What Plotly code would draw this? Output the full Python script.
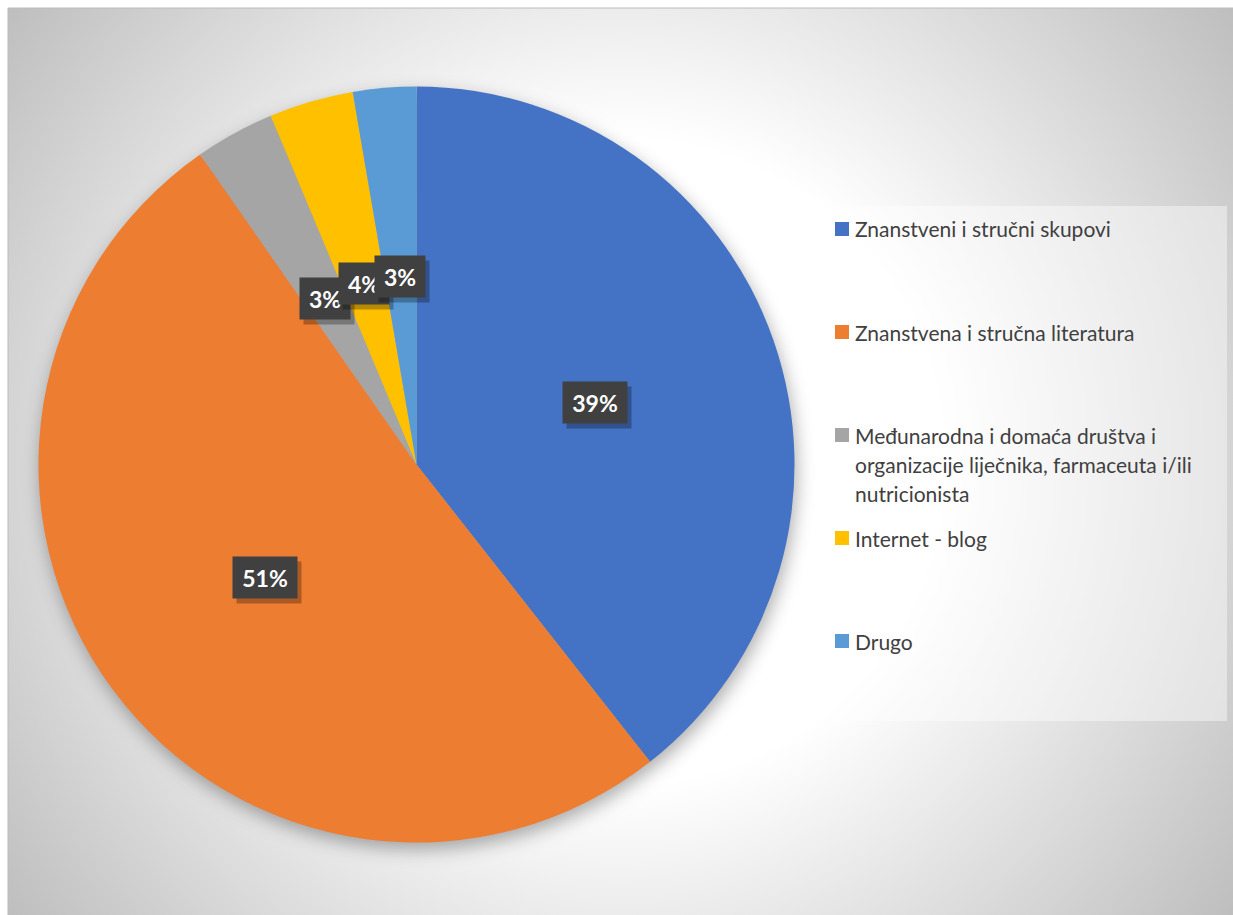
import base64
import math

import plotly.graph_objects as go

# ---- data -------------------------------------------------------------
labels = [
    "Znanstveni i stručni skupovi",
    "Znanstvena i stručna literatura",
    "Međunarodna i domaća društva i organizacije liječnika, farmaceuta i/ili nutricionista",
    "Internet - blog",
    "Drugo",
]
legend_lines = [
    ["Znanstveni i stručni skupovi"],
    ["Znanstvena i stručna literatura"],
    ["Međunarodna i domaća društva i", "organizacije liječnika, farmaceuta i/ili", "nutricionista"],
    ["Internet - blog"],
    ["Drugo"],
]
shares = [39.4, 50.9, 3.4, 3.6, 2.7]
colors = ["#4472C4", "#ED7D31", "#A5A5A5", "#FFC000", "#5B9BD5"]

# ---- geometry (pixels) ------------------------------------------------
W, H = 1233, 915
FRAME = (8, 8, 1233, 915)          # chart area: left, top, right, bottom
PIE_CX, PIE_CY, PIE_R = 416.5, 464.5, 378
LABEL_RADIUS = 0.5                 # data labels sit halfway out
LEG_BOX = (823, 206, 1227, 721)
LEG_FIRST_Y, LEG_STEP, LEG_LINE = 229, 103, 29
LEG_SWATCH_X, LEG_TEXT_X, SWATCH = 835, 853, 14

FONT = "Lato, 'Open Sans', sans-serif"
LABEL_SIZE = 23
LEGEND_SIZE = 21


def px(x):
    return x / W


def py(y):
    return 1 - y / H


# ---- background: soft radial gradient with pie drop shadow ------------
bw, bh = FRAME[2] - FRAME[0], FRAME[3] - FRAME[1]
svg = f"""<svg xmlns="http://www.w3.org/2000/svg" width="{bw}" height="{bh}" viewBox="0 0 {bw} {bh}">
<defs>
<radialGradient id="g" gradientUnits="userSpaceOnUse" cx="{bw / 2}" cy="{bh / 2}" r="770">
<stop offset="0" stop-color="#ffffff"/>
<stop offset="0.42" stop-color="#ffffff"/>
<stop offset="1" stop-color="#bdbdbd"/>
</radialGradient>
<filter id="b" x="-30%" y="-30%" width="160%" height="160%"><feGaussianBlur stdDeviation="9"/></filter>
</defs>
<rect width="{bw}" height="{bh}" fill="url(#g)"/>
<circle cx="{PIE_CX - FRAME[0] + 2}" cy="{PIE_CY - FRAME[1] + 7}" r="{PIE_R}" fill="#000000" fill-opacity="0.32" filter="url(#b)"/>
</svg>"""
bg_uri = "data:image/svg+xml;base64," + base64.b64encode(svg.encode("utf-8")).decode("ascii")

# ---- pie ----------------------------------------------------------------
fig = go.Figure(
    go.Pie(
        labels=labels,
        values=shares,
        sort=False,
        direction="clockwise",
        rotation=0,
        marker=dict(colors=colors, line=dict(width=0)),
        textinfo="none",
        hovertemplate="%{label}: %{percent:.0%}<extra></extra>",
        showlegend=False,
        domain=dict(
            x=[px(PIE_CX - PIE_R), px(PIE_CX + PIE_R)],
            y=[py(PIE_CY + PIE_R), py(PIE_CY - PIE_R)],
        ),
    )
)

# ---- data labels: dark boxes with a drop shadow -------------------------
total = sum(shares)
annotations = []
cum = 0.0
for v in shares:
    mid = (cum + v / 2) / total * 2 * math.pi
    cum += v
    lx = PIE_CX + LABEL_RADIUS * PIE_R * math.sin(mid)
    ly = PIE_CY - LABEL_RADIUS * PIE_R * math.cos(mid)
    pct = round(100 * v / total)
    text_w = 50 if pct >= 10 else 36
    common = dict(
        x=px(lx), y=py(ly), xref="paper", yref="paper",
        xanchor="center", yanchor="middle", showarrow=False,
        borderpad=7, width=text_w, height=27,
    )
    # shadow box (no text), offset down and right
    shadow = dict(common)
    shadow.update(text=" ", xshift=4, yshift=-5, bgcolor="rgba(0,0,0,0.28)",
                  font=dict(family=FONT, size=LABEL_SIZE))
    annotations.append(shadow)
    box = dict(common)
    box.update(text=f"<b>{pct}%</b>", bgcolor="#404040",
               font=dict(family=FONT, size=LABEL_SIZE, color="#ffffff"))
    annotations.append(box)

# ---- legend -------------------------------------------------------------
shapes = [
    dict(type="rect", xref="paper", yref="paper",
         x0=px(FRAME[0]), x1=px(FRAME[2] + 2), y0=py(FRAME[3] + 2), y1=py(FRAME[1]),
         line=dict(color="#bcbcbc", width=1), fillcolor="rgba(0,0,0,0)", layer="above"),
    dict(type="rect", xref="paper", yref="paper",
         x0=px(LEG_BOX[0]), x1=px(LEG_BOX[2]), y0=py(LEG_BOX[3]), y1=py(LEG_BOX[1]),
         line=dict(width=0), fillcolor="rgba(255,255,255,0.42)", layer="below"),
]
for i, (lines, col) in enumerate(zip(legend_lines, colors)):
    y0 = LEG_FIRST_Y + i * LEG_STEP
    shapes.append(dict(
        type="rect", xref="paper", yref="paper",
        x0=px(LEG_SWATCH_X), x1=px(LEG_SWATCH_X + SWATCH),
        y0=py(y0 + SWATCH / 2), y1=py(y0 - SWATCH / 2),
        line=dict(width=0), fillcolor=col, layer="above",
    ))
    for j, line in enumerate(lines):
        annotations.append(dict(
            text=line, x=px(LEG_TEXT_X), y=py(y0 + j * LEG_LINE),
            xref="paper", yref="paper", xanchor="left", yanchor="middle",
            showarrow=False, font=dict(family=FONT, size=LEGEND_SIZE, color="#404040"),
        ))

fig.update_layout(
    width=W, height=H,
    margin=dict(l=0, r=0, t=0, b=0),
    paper_bgcolor="#ffffff",
    plot_bgcolor="rgba(0,0,0,0)",
    images=[dict(
        source=bg_uri, xref="paper", yref="paper",
        x=px(FRAME[0]), y=py(FRAME[1]), sizex=px(bw), sizey=bh / H,
        xanchor="left", yanchor="top", sizing="stretch", layer="below",
    )],
    shapes=shapes,
    annotations=annotations,
)

fig.write_html("out.html")
